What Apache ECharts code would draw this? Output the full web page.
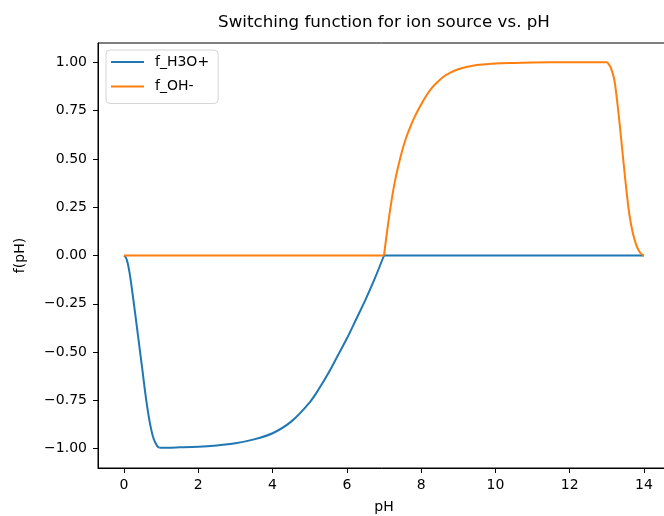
<!DOCTYPE html>
<html>
<head>
<meta charset="utf-8">
<script src="https://cdn.jsdelivr.net/npm/echarts@6/dist/echarts.min.js"></script>
<style>
  html, body { margin: 0; padding: 0; background: #fff; }
  #chart { width: 664px; height: 516px; }
</style>
</head>
<body>
<div id="chart"></div>
<script>
// ---- data ----
var seriesNames = ['f_H3O+', 'f_OH-'];
var xTicks = [0, 2, 4, 6, 8, 10, 12, 14];
var yTicks = [-1, -0.75, -0.5, -0.25, 0, 0.25, 0.5, 0.75, 1];

var pH_H3O = [0, 0.05, 0.1, 0.15, 0.2, 0.3, 0.4, 0.5, 0.6, 0.7, 0.8, 0.9, 0.95, 1.0,
  1.5, 2, 2.5, 3, 3.5, 4, 4.5, 5, 5.25, 5.5, 5.75, 6, 6.25, 6.5, 6.75, 7,
  8, 9, 10, 11, 12, 13, 14];
var f_H3O = [0, -0.01, -0.04, -0.09, -0.155, -0.30, -0.45, -0.60, -0.75, -0.87, -0.95, -0.988, -0.995, -0.995,
  -0.993, -0.99, -0.983, -0.972, -0.952, -0.92, -0.86, -0.76, -0.69, -0.61, -0.52, -0.43, -0.33, -0.23, -0.12, 0,
  0, 0, 0, 0, 0, 0, 0];
// pH values where the curve has a sharp corner
var cornersH3O = [0.95, 7];

var pH_OH = [0, 1, 2, 3, 4, 5, 6, 7,
  7.1, 7.2, 7.3, 7.4, 7.5, 7.6, 7.7, 7.8, 7.9, 8.0, 8.1, 8.2, 8.3, 8.4, 8.6, 8.8, 9.0, 9.25, 9.5, 10, 10.5, 11, 12, 12.9, 13,
  13.05, 13.1, 13.2, 13.3, 13.4, 13.5, 13.6, 13.7, 13.8, 13.9, 14];
var f_OH = [0, 0, 0, 0, 0, 0, 0, 0,
  0.15, 0.28, 0.39, 0.475, 0.55, 0.612, 0.662, 0.707, 0.747, 0.782, 0.815, 0.845, 0.87, 0.89, 0.925, 0.948, 0.964, 0.977, 0.986, 0.994, 0.997, 0.999, 1.0, 1.0, 1.0,
  0.99, 0.975, 0.91, 0.76, 0.575, 0.385, 0.22, 0.115, 0.05, 0.013, 0];
var cornersOH = [7];

// split a curve into pieces at its corners (each piece smoothed on its own)
function pieces(xs, ys, corners) {
  var out = [], cur = [];
  for (var i = 0; i < xs.length; i++) {
    cur.push([xs[i], ys[i]]);
    if (corners.indexOf(xs[i]) >= 0 && i > 0 && i < xs.length - 1) {
      out.push(cur);
      cur = [[xs[i], ys[i]]];
    }
  }
  out.push(cur);
  return out;
}
function fmtY(v) { return v.toFixed(2).replace('-', '\u2212'); }

var colors = ['#1f77b4', '#ff7f0e'];
var series = [];
[[pH_H3O, f_H3O, cornersH3O], [pH_OH, f_OH, cornersOH]].forEach(function (d, k) {
  pieces(d[0], d[1], d[2]).forEach(function (p) {
    series.push({
      name: seriesNames[k], type: 'line', data: p,
      symbol: 'none', showSymbol: false, smooth: 0.3,
      lineStyle: { color: colors[k], width: 2 }, itemStyle: { color: colors[k] }
    });
  });
});

var font = 'DejaVu Sans';
var chart = echarts.init(document.getElementById('chart'), null, { renderer: 'canvas' });
chart.setOption({
  animation: false,
  backgroundColor: '#ffffff',
  textStyle: { fontFamily: font },
  graphic: [{
    type: 'text', x: 384, y: 23,
    style: {
      text: 'Switching function for ion source vs. pH',
      fontFamily: font, fontSize: 16.7, fill: '#000',
      textAlign: 'center', textVerticalAlign: 'middle'
    }
  }],
  grid: {
    left: 98, top: 43, width: 572, height: 425,
    show: true, borderColor: '#000', borderWidth: 1, backgroundColor: 'transparent',
    containLabel: false, outerBoundsMode: 'none'
  },
  legend: {
    left: 106, top: 50, orient: 'vertical',
    padding: [5, 9, 10, 5], itemGap: 10.5, itemWidth: 33, itemHeight: 2,
    icon: 'rect',
    backgroundColor: 'rgba(255,255,255,0.8)', borderColor: '#d5d5d5', borderWidth: 1, borderRadius: 4,
    textStyle: { fontFamily: font, fontSize: 14, color: '#000', padding: [0, 0, 0, 6], lineHeight: 14 },
    data: seriesNames
  },
  xAxis: {
    type: 'value', min: -0.7, max: 14.7,
    name: 'pH', nameLocation: 'middle', nameGap: 32,
    nameTextStyle: { fontFamily: font, fontSize: 14, color: '#000' },
    axisLine: { show: true, onZero: false, lineStyle: { color: '#000', width: 1 } },
    axisTick: { show: true, length: 5, inside: false, customValues: xTicks, lineStyle: { color: '#000' } },
    axisLabel: { show: true, margin: 10, fontFamily: font, fontSize: 14, color: '#000', customValues: xTicks,
      formatter: function (v) { return String(v); } },
    splitLine: { show: false }
  },
  yAxis: {
    type: 'value', min: -1.1, max: 1.1,
    name: 'f(pH)', nameLocation: 'middle', nameGap: 71,
    nameTextStyle: { fontFamily: font, fontSize: 14, color: '#000' },
    axisLine: { show: true, onZero: false, lineStyle: { color: '#000', width: 1 } },
    axisTick: { show: true, length: 5, inside: false, customValues: yTicks, lineStyle: { color: '#000' } },
    axisLabel: { show: true, margin: 11, fontFamily: font, fontSize: 14, color: '#000', customValues: yTicks,
      formatter: fmtY },
    splitLine: { show: false }
  },
  series: series
});
</script>
</body>
</html>
